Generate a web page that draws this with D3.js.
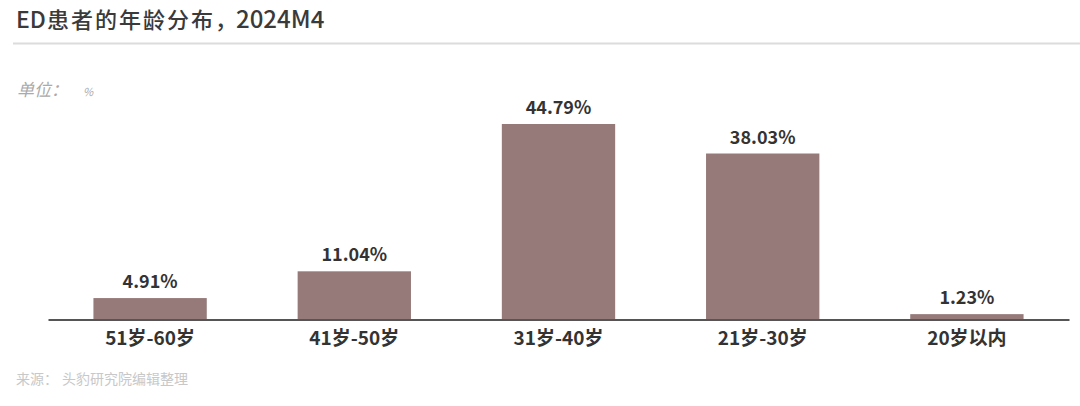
<!DOCTYPE html>
<html><head><meta charset="utf-8">
<script src="https://cdn.jsdelivr.net/npm/d3@7"></script>
<style>body{margin:0;background:#fff;}svg{display:block;}</style>
</head><body>
<script>
const categories = ["51岁-60岁","41岁-50岁","31岁-40岁","21岁-30岁","20岁以内"];
const values = [4.91, 11.04, 44.79, 38.03, 1.23];
const valueLabels = ["4.91%","11.04%","44.79%","38.03%","1.23%"];
const titleLatin = "ED";
const titleMain = "患者的年龄分布，";
const titlePeriod = "2024M4";
const unitText = "单位：";
const unitSymbol = "%";
const sourceLabel = "来源：";
const sourceText = "头豹研究院编辑整理";

const W = 1080, H = 406;
const font = "'Noto Sans CJK SC','Noto Sans',sans-serif";
const svg = d3.select("body").append("svg").attr("width", W).attr("height", H);

const t = svg.append("text").attr("x", 16).attr("y", 28).attr("font-family", font)
  .attr("font-size", 22).attr("font-weight", 500).attr("fill", "#3a3a3a");
t.append("tspan").attr("font-size", 23).text(titleLatin);
t.append("tspan").attr("letter-spacing", 2).attr("dx", 1).text(titleMain);
t.append("tspan").attr("x", 236).attr("font-size", 24).attr("letter-spacing", 0).text(titlePeriod);
svg.append("line").attr("x1", 13).attr("x2", 1080).attr("y1", 43.5).attr("y2", 43.5)
  .attr("stroke", "#dcdcdc").attr("stroke-width", 2);

const unit = svg.append("text").attr("x", 17).attr("y", 96).attr("font-family", font)
  .attr("font-size", 17).attr("fill", "#aaa").attr("font-style", "italic");
unit.append("tspan").text(unitText);
unit.append("tspan").attr("font-size", 11).attr("x", 83).text(unitSymbol);

const src = svg.append("text").attr("x", 16).attr("y", 384).attr("font-family", font)
  .attr("font-size", 14).attr("fill", "#c8c8c8");
src.append("tspan").text(sourceLabel);
src.append("tspan").attr("x", 62).text(sourceText);

const x = d3.scaleBand().domain(categories).range([48, 1069])
  .paddingInner(0.445).paddingOuter(0.2225);
const y = d3.scaleLinear().domain([0, 44.79]).range([319.5, 124]);

svg.selectAll("rect.bar").data(values).join("rect").attr("class", "bar")
  .attr("x", (d, i) => x(categories[i])).attr("width", x.bandwidth())
  .attr("y", d => y(d)).attr("height", d => y(0) - y(d))
  .attr("fill", "#957a79");

svg.selectAll("text.val").data(values).join("text").attr("class", "val")
  .attr("x", (d, i) => x(categories[i]) + x.bandwidth() / 2)
  .attr("y", d => y(d) - 10).attr("text-anchor", "middle")
  .attr("font-family", font).attr("font-weight", "bold").attr("font-size", 18)
  .attr("fill", "#333").text((d, i) => valueLabels[i]);

const axis = d3.axisBottom(x).tickSize(0).tickPadding(9);
const g = svg.append("g").attr("transform", `translate(0,${y(0)})`).call(axis);
g.select(".domain").attr("stroke", "#555").attr("stroke-width", 2);
g.selectAll("text").attr("font-family", font).attr("font-weight", "bold")
  .attr("font-size", 19).attr("fill", "#333").attr("dy", "0.85em");
</script>
</body></html>
